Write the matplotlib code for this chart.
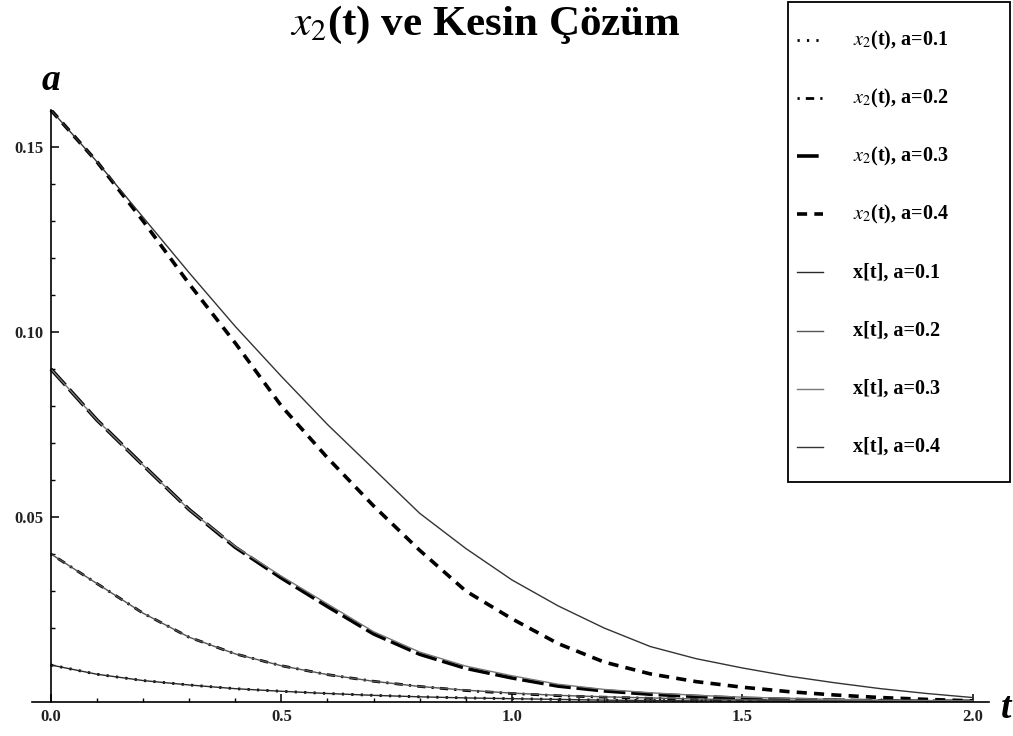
import numpy as np
import matplotlib
matplotlib.use('Agg')
from matplotlib import pyplot as plt
from matplotlib.patches import Rectangle
from matplotlib.lines import Line2D

plt.rcParams['mathtext.fontset'] = 'stix'
plt.rcParams['font.family'] = ['Liberation Serif', 'DejaVu Serif']

# t grid and values
t = [0.0, 0.1, 0.2, 0.3, 0.4, 0.5, 0.6, 0.7, 0.8, 0.9, 1.0,
     1.1, 1.2, 1.3, 1.4, 1.5, 1.6, 1.7, 1.8, 1.9, 2.0]

# exact solution x[t]
exact_a1 = [0.0100, 0.0075, 0.0058, 0.0046, 0.0036, 0.0029, 0.0023, 0.0018, 0.0014, 0.0011, 0.0009,
            0.0007, 0.0005, 0.0004, 0.0003, 0.00025, 0.0002, 0.00015, 0.0001, 0.0001, 0.0001]
exact_a2 = [0.0400, 0.0320, 0.0240, 0.0175, 0.0130, 0.0098, 0.0074, 0.0056, 0.0042, 0.0032, 0.0024,
            0.0018, 0.0014, 0.0011, 0.0008, 0.0006, 0.0005, 0.0004, 0.0003, 0.0002, 0.0002]
exact_a3 = [0.0900, 0.0762, 0.0640, 0.0520, 0.0420, 0.0340, 0.0265, 0.0190, 0.0135, 0.0097, 0.0071,
            0.0048, 0.0034, 0.0025, 0.0018, 0.0013, 0.0010, 0.0007, 0.0005, 0.0004, 0.0003]
exact_a4 = [0.1600, 0.1460, 0.1310, 0.1160, 0.1015, 0.0880, 0.0750, 0.0630, 0.0510, 0.0415, 0.0330,
            0.0260, 0.0200, 0.0150, 0.0117, 0.0092, 0.0070, 0.0052, 0.0036, 0.0023, 0.0012]

# approximation x2(t)
approx_a1 = [0.0100, 0.0075, 0.0058, 0.0046, 0.0036, 0.0029, 0.0023, 0.0018, 0.0014, 0.0011, 0.0009,
             0.0007, 0.0005, 0.0004, 0.0003, 0.00025, 0.0002, 0.00015, 0.0001, 0.0001, 0.0001]
approx_a2 = [0.0400, 0.0320, 0.0240, 0.0175, 0.0130, 0.0098, 0.0074, 0.0056, 0.0042, 0.0031, 0.0023,
             0.0017, 0.0013, 0.0010, 0.0007, 0.0005, 0.0004, 0.0003, 0.0002, 0.0002, 0.0001]
approx_a3 = [0.0900, 0.0762, 0.0640, 0.0520, 0.0418, 0.0335, 0.0258, 0.0184, 0.0129, 0.0091, 0.0065,
             0.0043, 0.0030, 0.0021, 0.0015, 0.0010, 0.0007, 0.0005, 0.0003, 0.0002, 0.0002]
approx_a4 = [0.1600, 0.1460, 0.1300, 0.1130, 0.0970, 0.0800, 0.0660, 0.0530, 0.0410, 0.0300, 0.0225,
             0.0158, 0.0108, 0.0076, 0.0055, 0.0040, 0.0028, 0.0019, 0.0012, 0.0007, 0.0003]

a_values = ['0.1', '0.2', '0.3', '0.4']

W, H = 1013, 736
fig = plt.figure(figsize=(W/100, H/100), dpi=100)
ax = fig.add_axes([32/W, 34/H, 957/W, 592/H])

approx = [approx_a1, approx_a2, approx_a3, approx_a4]
exact = [exact_a1, exact_a2, exact_a3, exact_a4]
approx_styles = [((0, (0.8, 2.6)), 2.0),
                 ((0, (0.8, 2.2, 3.0, 2.2)), 2.0),
                 ((0, (6.0, 1.6)), 2.6),
                 ((0, (2.8, 2.0)), 2.6)]
exact_colors = ['#2a2a2a', '#555555', '#777777', '#333333']

entries = []  # (color, linestyle, linewidth, label)
for y, (ls, lw), a in zip(approx, approx_styles, a_values):
    lab = r'$x_2$(t), a=' + a
    ax.plot(t, y, color='black', linestyle=ls, linewidth=lw, label=lab)
    entries.append(('black', ls, lw, lab))
for y, c, a in zip(exact, exact_colors, a_values):
    lab = 'x[t], a=' + a
    ax.plot(t, y, color=c, linestyle='-', linewidth=1.0, label=lab)
    entries.append((c, '-', 1.0, lab))

ax.set_xlim(-0.041, 2.035)
ax.set_ylim(0, 0.16)
ax.spines['left'].set_position(('data', 0))
ax.spines['bottom'].set_position(('data', 0))
ax.spines['right'].set_visible(False)
ax.spines['top'].set_visible(False)
for s in ['left', 'bottom']:
    ax.spines[s].set_linewidth(1.2)

ax.set_xticks([0.0, 0.5, 1.0, 1.5, 2.0])
ax.set_xticklabels(['0.0', '0.5', '1.0', '1.5', '2.0'])
ax.set_xticks(np.arange(0.1, 2.0, 0.1), minor=True)
ax.set_yticks([0.05, 0.10, 0.15])
ax.set_yticklabels(['0.05', '0.10', '0.15'])
ax.set_yticks([0.01, 0.02, 0.03, 0.04, 0.06, 0.07, 0.08, 0.09,
               0.11, 0.12, 0.13, 0.14], minor=True)
ax.tick_params(which='major', direction='in', length=5.5, width=1.1, pad=5,
               labelsize=12, labelcolor='#222222')
ax.tick_params(which='minor', direction='in', length=3, width=1.0)
for lab in ax.get_xticklabels() + ax.get_yticklabels():
    lab.set_fontweight('bold')

fig.text(51/W, 1 - 80/H, 'a', fontsize=27, fontweight='bold', fontstyle='italic',
         ha='center', va='center')
fig.text(1006/W, 1 - 709/H, 't', fontsize=27, fontweight='bold', fontstyle='italic',
         ha='center', va='center')
fig.text(485/W, 1 - 25/H, r'$x_2$(t) ve Kesin Çözüm', fontsize=31, fontweight='bold',
         ha='center', va='center')

# legend: box with evenly spaced rows, Mathematica style
fig.patches.append(Rectangle((788/W, 1 - 482/H), 222/W, 480/H,
                             transform=fig.transFigure, fill=False,
                             edgecolor='black', linewidth=1.3))
for i, (c, ls, lw, lab) in enumerate(entries):
    yy = 1 - (40 + i * 58.1) / H
    fig.add_artist(Line2D([797/W, 823/W], [yy, yy], transform=fig.transFigure,
                          color=c, linestyle=ls, linewidth=lw))
    fig.text(853/W, yy, lab, fontsize=14.5, fontweight='bold',
             ha='left', va='center')

fig.savefig('out.png', dpi=100)
